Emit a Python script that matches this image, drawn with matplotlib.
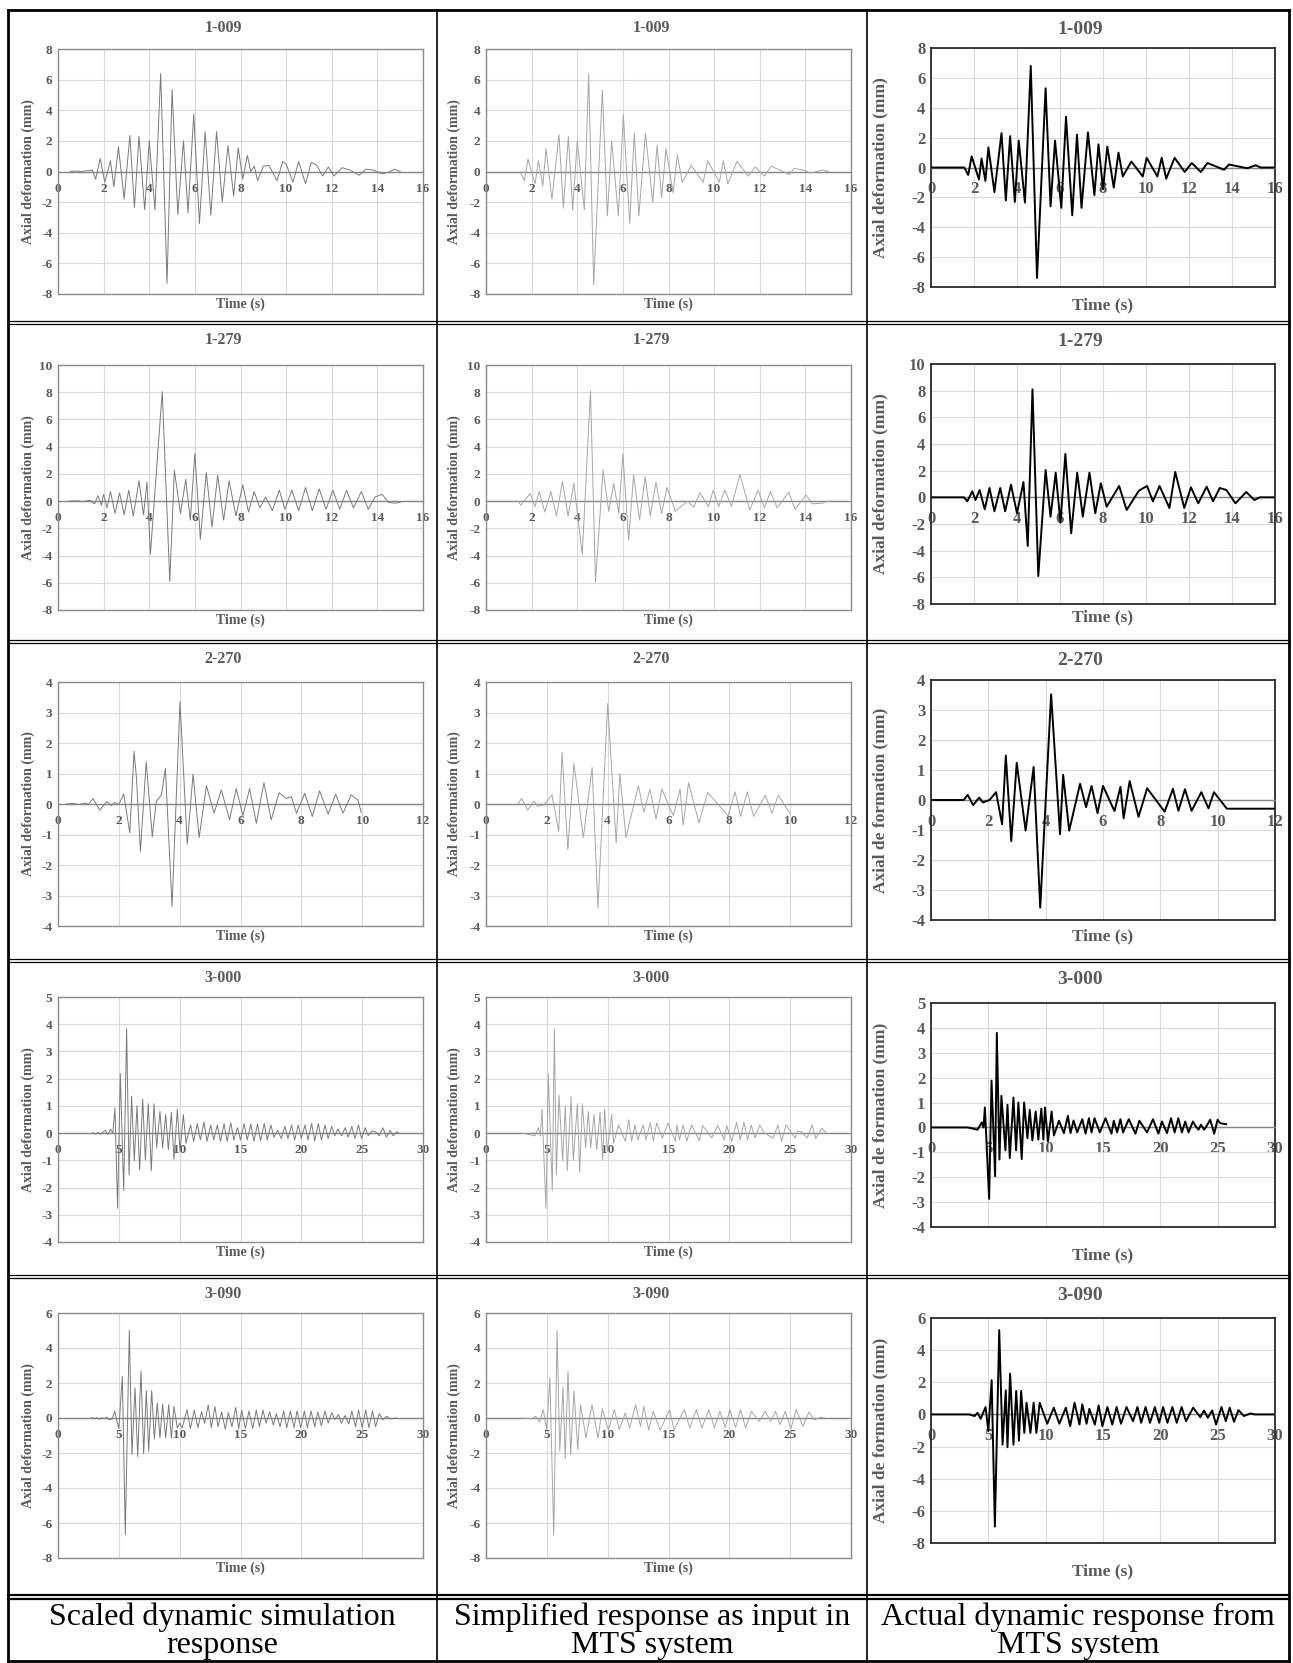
import numpy as np
import matplotlib
matplotlib.use('Agg')
import matplotlib.pyplot as plt
from matplotlib.lines import Line2D

plt.rcParams['font.family'] = ['Liberation Serif', 'DejaVu Serif']
plt.rcParams['axes.unicode_minus'] = False

# -------------------------
# Data (time s, axial deformation mm)
# -------------------------
records = ['1-009', '1-279', '2-270', '3-000', '3-090']

sim_1009 = [(0.55, 0), (0.8, 0.03), (1.0, 0.0), (1.2, 0.04), (1.4, 0.05), (1.5, 0.1), (1.65, -0.5), (1.85, 0.85),
            (2.05, -0.7), (2.3, 0.7), (2.45, -1.0), (2.65, 1.6), (2.9, -1.8), (3.15, 2.35), (3.35, -2.35), (3.55, 2.3),
            (3.8, -2.5), (4.0, 2.0), (4.25, -2.5), (4.5, 6.4), (4.78, -7.3), (5.0, 5.35), (5.25, -2.8), (5.5, 2.0),
            (5.7, -2.7), (5.95, 3.75), (6.2, -3.4), (6.45, 2.6), (6.7, -2.85), (6.95, 2.6), (7.2, -2.0), (7.45, 1.7),
            (7.7, -1.6), (7.9, 1.55), (8.1, -0.5), (8.3, 1.05), (8.45, 0.0), (8.6, 0.35), (8.75, -0.6), (9.0, 0.35),
            (9.25, 0.4), (9.6, -0.6), (9.85, 0.65), (10.0, 0.5), (10.3, -0.7), (10.55, 0.65), (10.85, -0.8),
            (11.1, 0.6), (11.35, 0.4), (11.6, -0.3), (11.85, 0.3), (12.1, -0.3), (12.45, 0.25), (12.8, 0.1),
            (13.2, -0.25), (13.5, 0.15), (13.8, 0.1), (14.2, -0.15), (14.5, -0.05), (14.75, 0.15), (15.0, 0.0)]
simp_1009 = [(1.5, 0), (1.68, -0.6), (1.84, 0.8), (2.15, -0.8), (2.3, 0.7), (2.49, -0.95), (2.63, 1.5), (2.89, -1.8),
             (3.2, 2.4), (3.39, -2.4), (3.61, 2.3), (3.8, -2.5), (4.0, 2.0), (4.31, -2.5), (4.5, 6.4), (4.72, -7.4),
             (5.1, 5.3), (5.32, -2.9), (5.51, 2.0), (5.8, -2.9), (6.02, 3.7), (6.3, -3.4), (6.5, 2.5), (6.7, -2.9),
             (6.99, 2.5), (7.31, -2.0), (7.5, 1.7), (7.7, -1.7), (7.89, 1.5), (8.2, -1.4), (8.39, 1.1), (8.6, -0.7),
             (9.0, 0.4), (9.52, -0.7), (9.72, 0.7), (10.23, -0.7), (10.4, 0.7), (10.6, -0.8), (11.0, 0.65),
             (11.5, -0.3), (11.8, 0.3), (12.2, -0.3), (12.5, 0.35), (13.3, -0.2), (13.5, 0.2), (13.9, 0.1),
             (14.25, -0.1), (14.75, 0.1), (15.0, 0.0)]
mts_1009 = [(0, 0), (1.55, 0), (1.73, -0.5), (1.89, 0.75), (2.23, -0.8), (2.35, 0.6), (2.53, -0.9), (2.67, 1.35),
            (2.95, -1.65), (3.28, 2.3), (3.48, -2.2), (3.68, 2.1), (3.9, -2.3), (4.08, 1.8), (4.37, -2.35), (4.64, 6.8),
            (4.93, -7.4), (5.33, 5.3), (5.56, -2.6), (5.77, 1.8), (6.06, -2.7), (6.28, 3.4), (6.57, -3.2), (6.79, 2.2),
            (7.0, -2.7), (7.3, 2.35), (7.6, -1.85), (7.79, 1.55), (8.0, -1.45), (8.2, 1.4), (8.5, -1.35), (8.72, 1.0),
            (8.92, -0.6), (9.32, 0.4), (9.85, -0.6), (10.03, 0.65), (10.53, -0.6), (10.73, 0.65), (10.94, -0.75),
            (11.33, 0.65), (11.8, -0.3), (12.13, 0.3), (12.55, -0.3), (12.86, 0.3), (13.63, -0.15), (13.86, 0.2),
            (14.71, -0.05), (15.1, 0.15), (15.33, 0.0), (16.0, 0.0)]

sim_1279 = [(0.5, 0), (0.8, 0.02), (1.1, -0.03), (1.4, 0.05), (1.6, -0.2), (1.75, 0.4), (1.9, -0.3), (2.0, 0.5),
            (2.15, -0.5), (2.3, 0.7), (2.5, -0.9), (2.7, 0.6), (2.9, -1.0), (3.1, 0.8), (3.3, -1.1), (3.55, 1.5),
            (3.75, -1.0), (3.9, 1.4), (4.05, -3.9), (4.57, 8.05), (4.9, -5.9), (5.1, 2.25), (5.37, -0.9), (5.6, 1.6),
            (5.8, -1.4), (6.0, 3.5), (6.24, -2.8), (6.5, 2.1), (6.75, -1.9), (7.0, 1.9), (7.26, -1.4), (7.5, 1.5),
            (7.8, -1.1), (8.1, 1.2), (8.35, -0.8), (8.6, 0.7), (8.85, -0.5), (9.1, 0.3), (9.4, -0.7), (9.7, 0.8),
            (9.95, -0.6), (10.25, 0.8), (10.55, -0.7), (10.85, 1.0), (11.15, -0.7), (11.45, 0.9), (11.75, -0.6),
            (12.05, 0.8), (12.35, -0.6), (12.65, 0.8), (12.95, -0.5), (13.3, 0.7), (13.6, -0.6), (13.9, 0.3),
            (14.2, 0.5), (14.5, -0.1), (14.75, -0.15), (15.0, -0.1)]
simp_1279 = [(1.4, 0), (1.53, -0.3), (1.93, 0.55), (2.15, -0.4), (2.33, 0.7), (2.58, -0.8), (2.84, 0.7), (3.09, -1.1),
             (3.35, 1.45), (3.6, -1.1), (3.85, 1.3), (4.22, -3.9), (4.58, 8.1), (4.8, -5.95), (5.13, 2.3),
             (5.38, -0.75), (5.6, 1.3), (5.82, -0.9), (6.0, 3.5), (6.25, -2.85), (6.47, 1.9), (6.73, -1.4),
             (6.98, 1.8), (7.2, -1.1), (7.45, 1.4), (7.7, -0.9), (7.93, 1.0), (8.3, -0.75), (8.84, 0.0), (9.1, -0.45),
             (9.38, 0.6), (9.75, -0.4), (9.96, 0.8), (10.2, -0.4), (10.47, 0.8), (10.76, -0.4), (11.13, 1.95),
             (11.56, -0.65), (11.93, 0.8), (12.2, -0.5), (12.47, 0.7), (12.76, -0.5), (13.27, 0.65), (13.55, -0.6),
             (14.03, 0.45), (14.3, -0.2), (14.75, -0.15), (15.0, 0.0)]
mts_1279 = [(0, 0), (1.53, 0), (1.69, -0.3), (1.92, 0.45), (2.07, -0.2), (2.26, 0.55), (2.5, -0.9), (2.72, 0.7),
            (2.95, -1.05), (3.22, 0.7), (3.45, -1.05), (3.72, 0.95), (4.0, -1.2), (4.3, 1.15), (4.5, -3.65),
            (4.72, 8.1), (4.99, -5.9), (5.33, 2.05), (5.56, -1.45), (5.8, 1.85), (6.02, -1.9), (6.25, 3.25),
            (6.52, -2.7), (6.8, 1.85), (7.06, -1.45), (7.37, 1.85), (7.64, -1.2), (7.9, 1.05), (8.17, -0.7),
            (8.75, 0.85), (9.1, -0.95), (9.67, 0.5), (10.05, 0.85), (10.32, -0.3), (10.63, 0.85), (11.09, -0.8),
            (11.36, 1.9), (11.78, -0.8), (12.09, 0.75), (12.43, -0.45), (12.82, 0.8), (13.12, -0.3), (13.43, 0.7),
            (13.74, 0.55), (14.16, -0.45), (14.66, 0.4), (15.04, -0.2), (15.3, 0.0), (16.0, 0.0)]

sim_2270 = [(0.27, 0), (0.5, 0.02), (0.7, -0.02), (0.9, 0.03), (1.0, -0.02), (1.15, 0.18), (1.37, -0.2), (1.6, 0.08),
            (1.75, -0.05), (1.86, 0.05), (2.0, -0.02), (2.16, 0.33), (2.36, -0.95), (2.5, 1.73), (2.58, 0.85),
            (2.71, -1.55), (2.9, 1.38), (3.1, -1.07), (3.23, 0.08), (3.4, 0.3), (3.53, 1.17), (3.75, -3.35),
            (4.01, 3.35), (4.25, -1.32), (4.44, 0.98), (4.64, -1.1), (4.88, 0.6), (5.13, -0.3), (5.37, 0.46),
            (5.64, -0.52), (5.86, 0.51), (6.08, -0.38), (6.3, 0.5), (6.52, -0.63), (6.77, 0.7), (7.01, -0.52),
            (7.27, 0.37), (7.5, 0.18), (7.67, 0.24), (7.84, -0.3), (8.11, 0.35), (8.36, -0.41), (8.6, 0.43),
            (8.88, -0.33), (9.13, 0.32), (9.37, -0.3), (9.64, 0.3), (9.86, 0.13), (9.97, -0.28)]
simp_2270 = [(1.05, 0), (1.17, 0.18), (1.37, -0.2), (1.58, 0.1), (1.7, -0.08), (1.9, -0.03), (2.17, 0.3),
             (2.39, -0.9), (2.5, 1.7), (2.69, -1.5), (2.89, 1.33), (3.2, -1.1), (3.49, 1.2), (3.68, -3.4), (4.0, 3.3),
             (4.28, -1.28), (4.4, 1.0), (4.6, -1.1), (5.01, 0.6), (5.19, -0.27), (5.39, 0.49), (5.59, -0.49),
             (5.78, 0.49), (6.16, -0.38), (6.38, 0.49), (6.48, -0.69), (6.66, 0.7), (7.0, -0.61), (7.29, 0.38),
             (7.96, -0.39), (8.19, 0.4), (8.37, -0.41), (8.59, 0.4), (8.8, -0.41), (9.18, 0.29), (9.4, -0.3),
             (9.61, 0.29), (9.99, -0.3)]
mts_2270 = [(0, 0), (1.14, 0), (1.28, 0.17), (1.47, -0.17), (1.68, 0.08), (1.81, -0.08), (2.04, 0), (2.27, 0.26),
            (2.48, -0.81), (2.61, 1.48), (2.8, -1.37), (2.99, 1.24), (3.3, -1.02), (3.58, 1.1), (3.81, -3.59),
            (4.19, 3.52), (4.5, -1.14), (4.61, 0.84), (4.82, -1.02), (5.2, 0.54), (5.41, -0.24), (5.6, 0.47),
            (5.81, -0.44), (6.0, 0.47), (6.4, -0.37), (6.61, 0.44), (6.72, -0.61), (6.93, 0.63), (7.24, -0.56),
            (7.54, 0.39), (8.15, -0.39), (8.44, 0.37), (8.63, -0.36), (8.86, 0.36), (9.09, -0.36), (9.43, 0.26),
            (9.68, -0.28), (9.87, 0.26), (10.32, -0.29), (12.0, -0.29)]

sim_3000 = [(2.82, 0.02), (3.1, -0.04), (3.3, 0.03), (3.5, -0.05), (3.7, 0.04), (3.9, 0.1), (4.1, -0.05), (4.33, 0.15),
            (4.5, -0.02), (4.68, 0.92), (4.9, -2.76), (5.12, 2.19), (5.4, -2.11), (5.64, 3.83), (5.84, -1.54),
            (6.05, 1.35), (6.27, -1.02), (6.49, 1.0), (6.71, -1.35), (6.96, 1.25), (7.18, -0.98), (7.42, 1.08),
            (7.67, -1.38), (7.89, 1.08), (8.11, -0.53), (8.38, 0.8), (8.6, -0.55), (8.85, 0.68), (9.07, -0.61),
            (9.32, 0.76), (9.53, -0.96), (9.81, 0.88), (10.03, -0.68), (10.3, 0.68), (10.52, -0.37), (10.9, 0.3),
            (11.15, -0.3), (11.45, 0.35), (11.7, -0.25), (12.0, 0.4), (12.25, -0.3), (12.55, 0.3), (12.8, -0.25),
            (13.1, 0.3), (13.35, -0.3), (13.65, 0.35), (13.9, -0.3), (14.2, 0.38), (14.45, -0.25), (14.75, 0.2),
            (15.0, -0.25), (15.3, 0.35), (15.55, -0.25), (15.85, 0.33), (16.1, -0.3), (16.4, 0.33), (16.65, -0.28),
            (16.95, 0.35), (17.2, -0.25), (17.5, 0.3), (17.75, -0.15), (18.05, 0.1), (18.35, -0.2), (18.65, 0.25),
            (18.9, -0.2), (19.2, 0.3), (19.45, -0.25), (19.75, 0.3), (20.0, -0.2), (20.3, 0.3), (20.55, -0.25),
            (20.85, 0.35), (21.1, -0.28), (21.4, 0.35), (21.65, -0.25), (21.95, 0.3), (22.2, -0.2), (22.5, 0.25),
            (22.75, -0.1), (23.0, 0.15), (23.3, -0.1), (23.6, 0.2), (23.85, -0.15), (24.15, 0.25), (24.4, -0.2),
            (24.7, 0.3), (24.95, -0.2), (25.25, 0.2), (25.5, -0.1), (25.8, 0.08), (26.1, 0.05), (26.4, -0.1),
            (26.7, 0.2), (27.0, -0.15), (27.3, 0.1), (27.55, -0.1), (27.85, 0.05), (28.0, 0.0)]
simp_3000 = [(3.0, 0), (4.03, -0.1), (4.3, 0.2), (4.47, -0.1), (4.6, 0.88), (4.93, -2.76), (5.12, 2.19),
             (5.45, -2.11), (5.62, 3.81), (5.78, -1.54), (6.0, 1.39), (6.3, -1.02), (6.52, 1.0), (6.68, -1.38),
             (6.99, 1.33), (7.18, -1.0), (7.51, 1.08), (7.7, -1.44), (7.92, 1.08), (8.19, -0.53), (8.41, 0.8),
             (8.6, -0.55), (8.88, 0.68), (9.1, -0.61), (9.37, 0.76), (9.59, -0.98), (9.75, 0.88), (9.97, -0.68),
             (10.33, 0.68), (10.49, -0.37), (10.9, 0.3), (11.45, -0.3), (11.73, 0.49), (11.97, -0.3), (12.25, 0.3),
             (12.47, -0.25), (12.93, 0.3), (13.15, -0.25), (13.5, 0.39), (13.75, -0.3), (14.03, 0.37), (14.5, -0.18),
             (14.96, 0.37), (15.56, -0.3), (15.7, 0.3), (15.9, -0.25), (16.2, 0.3), (16.5, -0.3), (16.9, 0.3),
             (17.53, -0.28), (17.81, 0.28), (18.55, -0.18), (19.04, 0.28), (19.59, -0.25), (19.78, 0.28),
             (20.2, -0.3), (20.6, 0.4), (20.9, -0.25), (21.2, 0.4), (21.5, -0.25), (21.8, 0.3), (22.1, -0.18),
             (22.5, 0.3), (22.9, 0.0), (23.6, -0.18), (24.0, 0.3), (24.3, -0.3), (24.66, 0.3), (25.4, -0.18),
             (25.6, 0.08), (25.95, 0.04), (26.4, -0.18), (26.8, 0.3), (27.1, -0.2), (27.6, 0.18), (28.0, 0.0)]
mts_3000 = [(0, 0), (3.19, 0), (4.06, -0.09), (4.43, 0.2), (4.58, 0), (4.7, 0.8), (5.07, -2.87), (5.28, 1.88),
            (5.59, -1.96), (5.74, 3.8), (5.97, -1.29), (6.14, 1.27), (6.49, -0.92), (6.67, 0.91), (6.87, -1.23),
            (7.19, 1.2), (7.42, -0.92), (7.62, 1.0), (7.91, -1.27), (8.12, 1.0), (8.41, -0.43), (8.61, 0.71),
            (8.84, -0.52), (9.13, 0.64), (9.36, -0.49), (9.62, 0.75), (9.8, -0.49), (9.94, 0.8), (10.2, -0.56),
            (10.52, 0.64), (10.72, -0.32), (11.16, 0.27), (11.59, -0.23), (11.94, 0.47), (12.17, -0.23),
            (12.43, 0.28), (12.75, -0.2), (13.19, 0.33), (13.48, -0.25), (13.77, 0.37), (14.0, -0.2), (14.26, 0.37),
            (14.72, -0.2), (15.22, 0.37), (15.74, -0.25), (15.94, 0.27), (16.23, -0.2), (16.52, 0.33),
            (16.75, -0.2), (17.25, 0.33), (17.83, -0.25), (18.17, 0.27), (18.84, -0.2), (19.36, 0.33),
            (19.83, -0.25), (20.14, 0.24), (20.58, -0.23), (20.93, 0.37), (21.25, -0.2), (21.57, 0.37),
            (21.88, -0.2), (22.17, 0.24), (22.46, -0.2), (22.84, 0.24), (23.04, 0.08), (23.33, -0.09),
            (23.54, 0.11), (23.83, -0.09), (24.06, 0.08), (24.35, 0.31), (24.7, -0.25), (24.99, 0.31),
            (25.22, 0.17), (25.74, 0.13)]

sim_3090 = [(2.74, 0.03), (3.0, -0.03), (3.2, 0.02), (3.4, -0.08), (3.6, 0.02), (3.8, -0.05), (4.0, 0.05),
            (4.2, -0.1), (4.45, -0.05), (4.66, 0.4), (4.85, -0.2), (5.0, -0.6), (5.29, 2.38), (5.53, -6.67),
            (5.86, 5.0), (6.08, -2.1), (6.33, 1.72), (6.55, -2.2), (6.82, 2.67), (7.04, -2.04), (7.26, 1.56),
            (7.45, -1.9), (7.7, 1.56), (7.92, -1.2), (8.16, 0.86), (8.38, -1.14), (8.6, 0.8), (8.85, -1.14),
            (9.1, 0.76), (9.32, -1.14), (9.53, 0.67), (9.81, -0.57), (10.0, -0.3), (10.2, -0.57), (10.6, 0.48),
            (10.88, -0.61), (11.2, 0.45), (11.5, -0.55), (11.8, 0.35), (12.05, -0.3), (12.35, 0.75), (12.6, -0.55),
            (12.9, 0.65), (13.15, -0.5), (13.45, 0.35), (13.75, -0.65), (14.0, 0.3), (14.3, -0.5), (14.6, 0.6),
            (14.85, -0.6), (15.1, 0.45), (15.4, -0.6), (15.7, 0.4), (16.0, -0.6), (16.3, 0.45), (16.55, -0.5),
            (16.85, 0.45), (17.1, -0.3), (17.4, 0.35), (17.7, -0.4), (17.95, 0.25), (18.25, -0.5), (18.55, 0.4),
            (18.8, -0.55), (19.1, 0.4), (19.4, -0.55), (19.65, 0.4), (19.95, -0.55), (20.25, 0.4), (20.5, -0.55),
            (20.8, 0.4), (21.1, -0.5), (21.35, 0.35), (21.65, -0.45), (21.95, 0.4), (22.2, -0.3), (22.5, 0.3),
            (22.75, -0.1), (23.05, 0.2), (23.3, -0.3), (23.6, 0.15), (23.9, -0.35), (24.15, 0.4), (24.45, -0.5),
            (24.7, 0.45), (25.0, -0.55), (25.3, 0.45), (25.55, -0.55), (25.85, 0.4), (26.1, -0.5), (26.4, 0.25),
            (26.7, -0.1), (27.0, 0.1), (27.3, -0.05), (27.8, 0.0)]
simp_3090 = [(3.05, 0), (3.73, -0.05), (4.09, 0.1), (4.4, -0.23), (4.71, 0.48), (4.98, -0.67), (5.25, 2.29),
             (5.57, -6.7), (5.84, 4.99), (6.06, -1.9), (6.33, 1.75), (6.51, -2.32), (6.74, 2.67), (6.96, -2.1),
             (7.23, 1.56), (7.54, -1.81), (7.77, 0.76), (8.22, -1.14), (8.71, 0.76), (9.2, -1.14), (9.56, 0.53),
             (10.06, -0.69), (10.55, 0.48), (10.96, -0.65), (11.45, 0.29), (11.81, -0.57), (12.3, 0.76),
             (12.7, -0.48), (12.97, 0.67), (13.38, -0.69), (13.74, 0.38), (14.32, -0.69), (15.09, 0.48),
             (15.45, -0.67), (16.3, 0.48), (16.75, -0.57), (17.29, 0.48), (17.74, -0.57), (18.32, 0.48),
             (18.77, -0.57), (19.22, 0.38), (19.67, -0.53), (20.03, 0.48), (20.52, -0.53), (20.92, 0.48),
             (21.33, -0.57), (21.82, 0.38), (22.45, -0.19), (22.95, 0.38), (23.39, -0.19), (23.8, 0.38),
             (24.16, -0.38), (24.6, 0.38), (25.06, -0.61), (25.5, 0.48), (26.04, -0.48), (26.54, 0.34),
             (26.99, -0.1), (27.5, 0.04), (27.84, 0.0)]
mts_3090 = [(0, 0), (3.33, 0), (3.81, -0.1), (4.05, 0.1), (4.33, -0.27), (4.76, 0.46), (5.0, -1.04), (5.29, 2.13),
            (5.57, -6.98), (5.95, 5.25), (6.24, -1.88), (6.52, 1.5), (6.67, -2.04), (6.9, 2.54), (7.19, -1.88),
            (7.43, 1.46), (7.67, -1.63), (7.86, 1.46), (8.14, -1.15), (8.33, 0.73), (8.67, -1.15), (8.95, 0.73),
            (9.19, -1.15), (9.48, 0.73), (10.14, -0.58), (10.71, 0.42), (11.19, -0.58), (11.76, 0.42),
            (12.14, -0.73), (12.52, 0.73), (12.95, -0.63), (13.19, 0.63), (13.57, -0.58), (13.81, 0.35),
            (14.29, -0.63), (14.62, 0.56), (14.95, -0.73), (15.38, 0.46), (15.81, -0.63), (16.19, 0.46),
            (16.57, -0.58), (17.05, 0.46), (17.62, -0.42), (18.0, 0.46), (18.33, -0.52), (18.71, 0.46),
            (19.1, -0.52), (19.52, 0.46), (19.9, -0.52), (20.24, 0.46), (20.62, -0.52), (21.05, 0.46),
            (21.43, -0.52), (21.86, 0.46), (22.24, -0.42), (22.86, 0.42), (23.48, -0.17), (23.81, 0.25),
            (24.14, -0.21), (24.52, 0.25), (24.86, -0.63), (25.33, 0.46), (25.71, -0.42), (26.05, 0.42),
            (26.43, -0.46), (26.81, 0.27), (27.29, -0.1), (27.86, 0.06), (28.24, 0.0), (30.0, 0.0)]

sim_series = [sim_1009, sim_1279, sim_2270, sim_3000, sim_3090]
simp_series = [simp_1009, simp_1279, simp_2270, simp_3000, simp_3090]
mts_series = [mts_1009, mts_1279, mts_2270, mts_3000, mts_3090]

x_max = [16, 16, 12, 30, 30]
x_step = [2, 2, 2, 5, 5]
y_min = [-8, -8, -4, -4, -8]
y_max = [8, 10, 4, 5, 6]
y_step = [2, 2, 1, 1, 2]

captions = [('Scaled dynamic simulation', 'response'),
            ('Simplified response as input in', 'MTS system'),
            ('Actual dynamic response from', 'MTS system')]

# -------------------------
# Figure and table frame (pixel layout)
# -------------------------
W, H = 1293, 1663
fig = plt.figure(figsize=(W / 100, H / 100), dpi=100)

row_top = [10, 322, 641, 960, 1276]
caption_top = 1597
col_edges = [8, 437, 867, 1289]
TXT = '#595959'


def fx(px):
    return px / W


def fy(py):
    return 1 - py / H


def hline(y, x0, x1, lw):
    fig.add_artist(Line2D([fx(x0), fx(x1)], [fy(y), fy(y)], color='black', lw=lw))


def vline(x, y0, y1, lw):
    fig.add_artist(Line2D([fx(x), fx(x)], [fy(y0), fy(y1)], color='black', lw=lw))


# outer border
hline(10, 8, 1289, 2.0)
hline(1661, 8, 1289, 2.0)
vline(8, 10, 1661, 2.0)
vline(1289, 10, 1661, 2.0)
for x in col_edges[1:-1]:
    vline(x, 10, 1661, 1.2)
for y in row_top[1:]:
    hline(y - 1, 8, 1289, 0.9)
    hline(y + 2, 8, 1289, 0.9)
hline(caption_top - 2, 8, 1289, 1.6)
hline(caption_top + 2, 8, 1289, 1.6)

# -------------------------
# Panels
# -------------------------
col_x = [(58, 423), (486, 851), (931, 1275)]
top_12 = [39, 43, 41, 37, 37]
bot_12 = [284, 288, 285, 282, 282]
top_3 = [38, 42, 39, 43, 42]
bot_3 = [277, 282, 279, 267, 267]
title_x = [223, 651, 1080]
ylab_x = [28, 454, 880]

styles = [
    dict(color='#7a7a7a', lw=0.7, frame='#8c8c8c', flw=1.0, tick=9.5, lab=10, title=11.5, pad=8),
    dict(color='#a6a6a6', lw=0.7, frame='#8c8c8c', flw=1.0, tick=9.5, lab=10, title=11.5, pad=8),
    dict(color='black', lw=1.4, frame='#2a2a2a', flw=1.3, tick=12, lab=12.5, title=14, pad=10),
]

for r in range(5):
    for c, data in enumerate([sim_series[r], simp_series[r], mts_series[r]]):
        st = styles[c]
        x0, x1 = col_x[c]
        if c < 2:
            y0, y1 = row_top[r] + top_12[r], row_top[r] + bot_12[r]
            xlab_y = y1 + 10
        else:
            y0, y1 = row_top[r] + top_3[r], row_top[r] + bot_3[r]
            xlab_y = row_top[r] + 295
        ax = fig.add_axes([fx(x0), fy(y1), fx(x1) - fx(x0), fy(y0) - fy(y1)])
        t, d = zip(*data)
        ax.plot(t, d, color=st['color'], lw=st['lw'], zorder=3)

        ax.set_xlim(0, x_max[r])
        ax.set_ylim(y_min[r], y_max[r])
        ax.set_xticks(np.arange(0, x_max[r] + 0.01, x_step[r]))
        ax.set_yticks(np.arange(y_min[r], y_max[r] + 0.01, y_step[r]))
        ax.set_xticklabels([f'{v:g}' for v in ax.get_xticks()])
        ax.set_yticklabels([f'{v:g}' for v in ax.get_yticks()])
        ax.grid(True, color='#d9d9d9', lw=0.8)
        ax.set_axisbelow(True)

        ax.spines['bottom'].set_position(('data', 0))
        ax.spines['bottom'].set_color('#868686')
        ax.spines['bottom'].set_linewidth(1.0)
        for s in ['left', 'top', 'right']:
            ax.spines[s].set_color(st['frame'])
            ax.spines[s].set_linewidth(st['flw'])
        ax.plot([0, 1], [0, 0], transform=ax.transAxes, color=st['frame'],
                lw=st['flw'], clip_on=False, zorder=4)

        ax.tick_params(length=0, labelsize=st['tick'], labelcolor=TXT)
        ax.tick_params(axis='x', pad=st['pad'])
        ax.tick_params(axis='y', pad=4)
        for lab in ax.get_xticklabels() + ax.get_yticklabels():
            lab.set_fontweight('bold')

        fig.text(fx(title_x[c]), fy(row_top[r] + (18 if c < 2 else 20)), records[r],
                 ha='center', va='center', fontsize=st['title'], fontweight='bold', color=TXT)
        fig.text(fx((x0 + x1) / 2), fy(xlab_y), 'Time (s)', ha='center', va='center',
                 fontsize=st['lab'], fontweight='bold', color=TXT)
        ylab = 'Axial de formation (mm)' if (c == 2 and r >= 2) else 'Axial deformation (mm)'
        fig.text(fx(ylab_x[c]), fy((y0 + y1) / 2), ylab, ha='center', va='center', rotation=90,
                 fontsize=st['lab'], fontweight='bold', color=TXT)

# -------------------------
# Column captions
# -------------------------
for c, (l1, l2) in enumerate(captions):
    cx = (col_edges[c] + col_edges[c + 1]) / 2
    fig.text(fx(cx), fy(1617), l1, ha='center', va='center', fontsize=23, color='black')
    fig.text(fx(cx), fy(1646), l2, ha='center', va='center', fontsize=23, color='black')

fig.savefig('out.png', dpi=100)
